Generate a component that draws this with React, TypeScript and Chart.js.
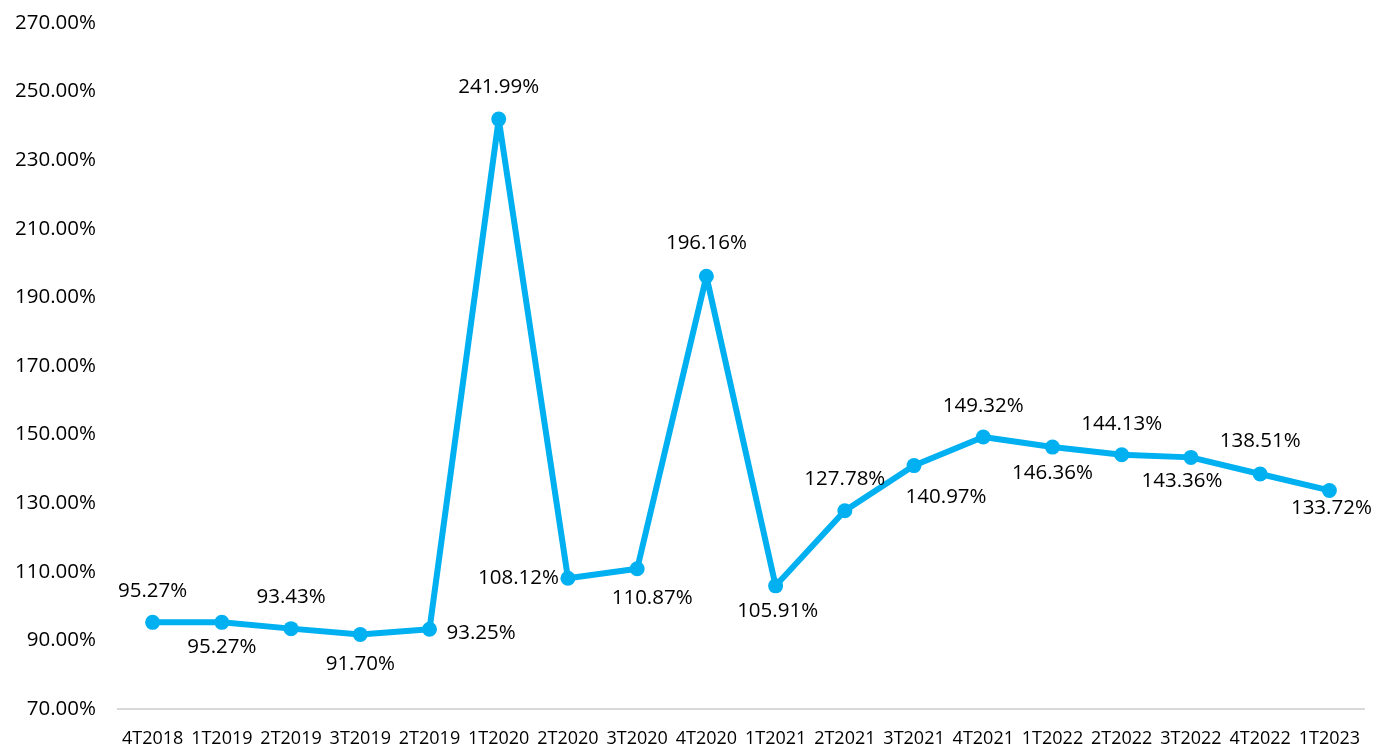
import React, { useEffect, useRef } from "react";
import { Chart, registerables } from "chart.js";

Chart.register(...registerables);

const categories = [
  "4T2018", "1T2019", "2T2019", "3T2019", "2T2019", "1T2020", "2T2020", "3T2020", "4T2020",
  "1T2021", "2T2021", "3T2021", "4T2021", "1T2022", "2T2022", "3T2022", "4T2022", "1T2023",
];

const values = [
  95.27, 95.27, 93.43, 91.7, 93.25, 241.99, 108.12, 110.87, 196.16,
  105.91, 127.78, 140.97, 149.32, 146.36, 144.13, 143.36, 138.51, 133.72,
];

const yMin = 70;
const yMax = 270;
const yStep = 20;

// label placement relative to each point: [dx, dy, align]
const labelPlacement: [number, number, CanvasTextAlign][] = [
  [0, -31, "center"],
  [0, 25, "center"],
  [0, -31, "center"],
  [0, 30, "center"],
  [17, 4, "left"],
  [0, -32, "center"],
  [-9, 0, "right"],
  [15, 29, "center"],
  [0, -33, "center"],
  [2, 25, "center"],
  [0, -32, "center"],
  [32, 32, "center"],
  [0, -31, "center"],
  [0, 26, "center"],
  [0, -31, "center"],
  [-9, 24, "center"],
  [0, -33, "center"],
  [2, 18, "center"],
];

const FONT = "'Open Sans', sans-serif";
const LINE_COLOR = "#00B0F0";
const TEXT_COLOR = "#000000";

const labelPlugin = {
  id: "pointLabels",
  afterDatasetsDraw(chart: any) {
    const ctx = chart.ctx;
    const meta = chart.getDatasetMeta(0);
    ctx.save();
    ctx.font = `20.5px ${FONT}`;
    ctx.fillStyle = TEXT_COLOR;
    ctx.textBaseline = "middle";
    meta.data.forEach((pt: any, i: number) => {
      const [dx, dy, align] = labelPlacement[i];
      ctx.textAlign = align;
      ctx.fillText(values[i].toFixed(2) + "%", pt.x + dx, pt.y + dy);
    });
    ctx.restore();
  },
};

export default function App() {
  const ref = useRef<HTMLCanvasElement | null>(null);

  useEffect(() => {
    document.body.style.margin = "0";
    const chart = new Chart(ref.current!, {
      type: "line",
      data: {
        labels: categories,
        datasets: [
          {
            data: values,
            borderColor: LINE_COLOR,
            backgroundColor: LINE_COLOR,
            borderWidth: 6,
            borderJoinStyle: "round",
            borderCapStyle: "round",
            pointRadius: 7.5,
            pointHoverRadius: 7.5,
            pointBackgroundColor: LINE_COLOR,
            pointBorderColor: LINE_COLOR,
            pointBorderWidth: 0,
            tension: 0,
          },
        ],
      },
      options: {
        animation: false,
        responsive: true,
        maintainAspectRatio: false,
        layout: { autoPadding: false, padding: { top: 23, right: 13, left: 0, bottom: 0 } },
        plugins: { legend: { display: false }, tooltip: { enabled: false } },
        scales: {
          x: {
            offset: true,
            grid: { display: false, drawTicks: false },
            border: { display: true, color: "#d9d9d9", width: 2 },
            ticks: {
              color: TEXT_COLOR,
              font: { family: FONT, size: 18 },
              padding: 19,
              maxRotation: 0,
              autoSkip: false,
            },
            afterFit(scale: any) {
              scale.height = 41;
              scale.paddingLeft = 0;
              scale.paddingRight = 0;
            },
          },
          y: {
            min: yMin,
            max: yMax,
            grid: { display: false, drawTicks: false },
            border: { display: false },
            ticks: {
              stepSize: yStep,
              color: TEXT_COLOR,
              font: { family: FONT, size: 20.5 },
              padding: 22,
              callback: (v: any) => Number(v).toFixed(2) + "%",
            },
            afterFit(scale: any) {
              scale.width = 118;
              scale.paddingTop = 0;
              scale.paddingBottom = 0;
            },
          },
        },
      },
      plugins: [labelPlugin],
    });
    return () => chart.destroy();
  }, []);

  return (
    <div style={{ width: 1377, height: 750, position: "relative" }}>
      <canvas ref={ref} />
    </div>
  );
}
